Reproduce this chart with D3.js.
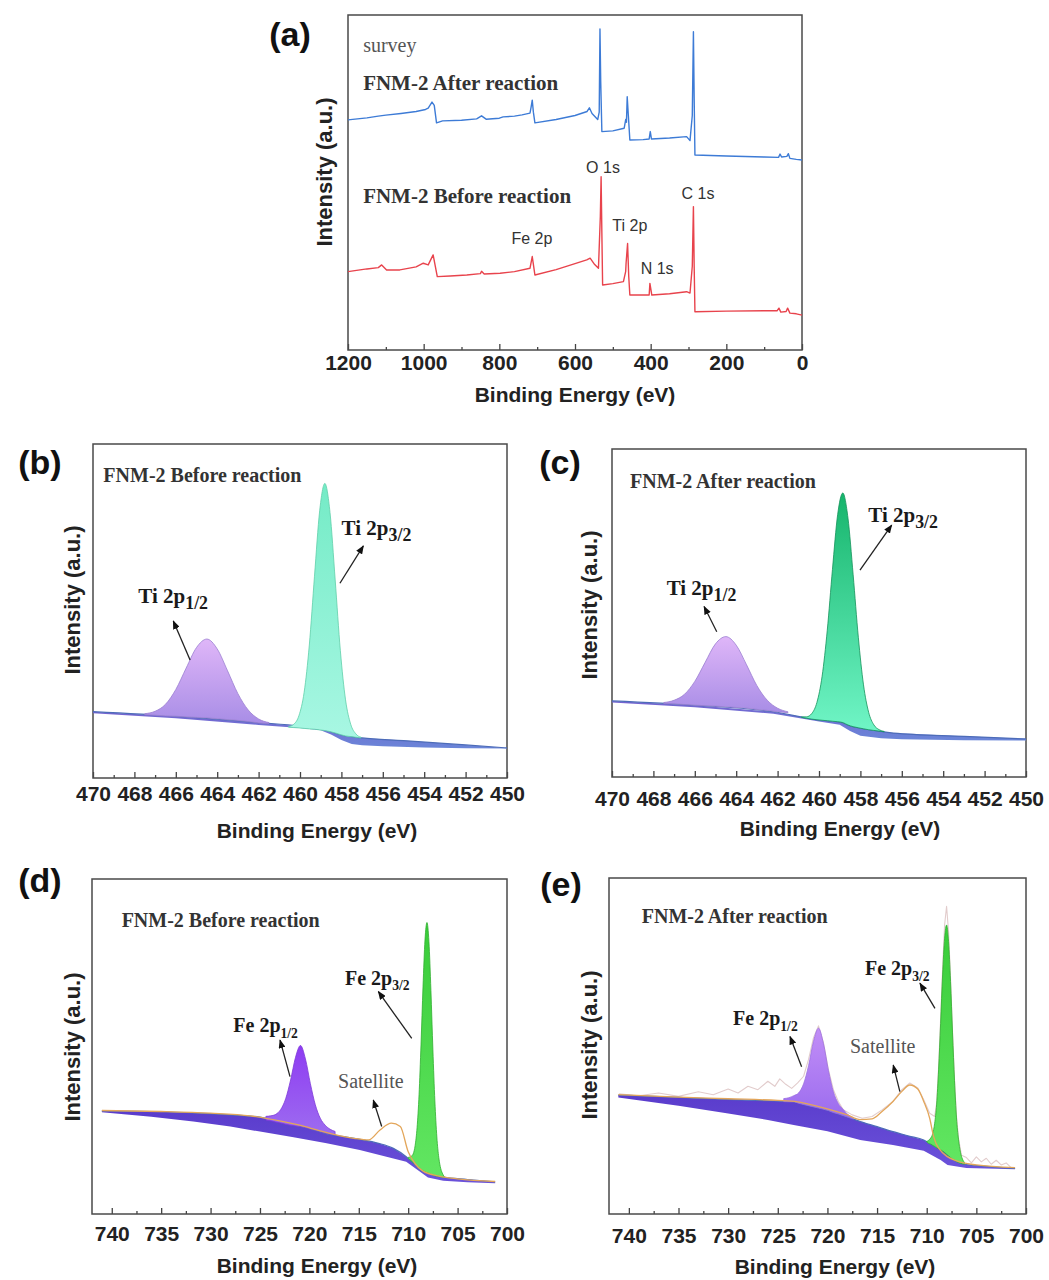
<!DOCTYPE html>
<html>
<head>
<meta charset="utf-8">
<script src="https://cdn.jsdelivr.net/npm/d3@7"></script>
<style>
body { margin: 0; background: #fff; }
</style>
</head>
<body>
<svg id="fig" width="1049" height="1280" font-family="Liberation Sans, Arial, sans-serif"></svg>
<script>
// ---------- data (binding energy eV, intensity in % of panel height) ----------

// (a) survey
const surveyAfter = [[1200,68.7],[1150,69.3],[1120,69.8],[1100,70.1],[1060,70.6],[1020,71.2],[995,71.8],[988,72.2],[978,74.0],[972,73.0],[966,67.8],[950,68.4],[900,68.6],[860,69.0],[847,69.9],[835,68.9],[800,69.2],[790,69.6],[760,69.8],[740,70.2],[719,70.7],[716,72.5],[713,74.6],[710,71.0],[706,67.8],[650,68.8],[600,70.0],[568,71.2],[562,72.3],[555,70.6],[540,68.8],[536,71.0],[534,95.8],[532,80.0],[529,65.2],[500,65.4],[470,66.2],[466,68.8],[464,68.0],[462,75.6],[459,70.0],[455,62.7],[420,62.8],[404,63.0],[401,65.2],[398,63.0],[350,63.3],[305,63.7],[296,62.5],[290,70.0],[287,95.0],[285,75.0],[283,58.2],[200,57.9],[100,57.6],[62,57.5],[58,58.5],[54,57.6],[40,57.8],[36,58.6],[32,57.2],[15,56.9],[0,56.7]];
const surveyBefore = [[1200,23.4],[1150,24.2],[1120,24.6],[1111,25.4],[1098,23.9],[1063,23.9],[1020,24.8],[1001,25.9],[988,25.4],[975,28.4],[964,21.9],[930,22.1],[886,22.4],[850,22.8],[847,23.5],[840,22.7],[798,22.9],[760,23.4],[719,24.4],[713,27.9],[706,22.4],[650,24.0],[600,25.8],[569,26.9],[560,27.4],[548,25.5],[538,24.4],[533,40.0],[531,51.7],[529,35.0],[527,19.4],[500,19.8],[472,20.4],[466,23.5],[465,25.9],[461,31.8],[458,22.0],[455,16.4],[404,16.4],[402,19.9],[397,16.4],[350,16.8],[305,17.4],[296,17.0],[290,25.0],[287,42.8],[285,25.0],[283,11.4],[200,11.6],[100,11.7],[66,11.7],[61,12.5],[56,11.3],[42,11.5],[38,12.5],[32,11.0],[15,10.8],[0,10.4]];
const surveyPeaks = [["O 1s",526,52.8],["C 1s",275,45.1],["Ti 2p",455,35.5],["Fe 2p",714,31.6],["N 1s",383,22.7]];

// (b) Ti 2p before reaction: [E, base, top]
const tiBeforeBgTop = [[470,19.85],[466,18.5],[462,16.6],[460,15.5],[459.5,15.0],[459,14.6],[458.5,13.9],[458,12.9],[457.5,12.4],[457,12.0],[455,11.2],[452,9.9],[450,9.0]];
const tiBeforeBgBot = [[470,19.4],[466,17.9],[462,15.9],[460,15.0],[459,14.3],[458.5,13.0],[458,11.4],[457.5,10.2],[457,9.8],[456,9.5],[454,9.1],[452,8.9],[450,8.8]];
const tiBefore12 = [[467.5,18.95,19.25],[467,18.8,19.98],[466.5,18.6,22.05],[466,18.5,26.5],[465.5,18.3,32.9],[465,18.15,39.05],[464.5,18.0,41.6],[464,17.75,38.65],[463.5,17.5,32.1],[463,17.25,25.25],[462.5,16.9,20.35],[462,16.5,17.68],[461.5,16.3,16.6]];
const tiBefore32 = [[460.55,15.2,15.4],[460.3,15.1,16.1],[460.05,15.0,18.7],[459.8,14.85,25.65],[459.55,14.7,39.8],[459.3,14.6,60.4],[459.05,14.4,80.0],[458.8,14.2,88.2],[458.55,13.9,79.5],[458.3,13.5,59.3],[458.05,13.0,38.1],[457.8,12.6,23.4],[457.55,12.4,16.1],[457.3,12.2,13.2],[457.05,12.0,12.2]];

// (c) Ti 2p after reaction
const tiAfterBgTop = [[470,23.2],[466,21.9],[462.2,19.9],[460,17.4],[459,16.8],[458.5,15.6],[458,14.9],[457,13.9],[456.4,13.4],[453,12.4],[450,11.6]];
const tiAfterBgBot = [[470,22.7],[466,21.3],[462.2,19.3],[460,16.9],[459,15.9],[458.5,14.0],[458,12.6],[457,11.8],[456,11.5],[453,11.2],[450,11.1]];
const tiAfter12 = [[467.5,22.4,22.7],[467,22.3,23.4],[466.5,22.1,25.2],[466,21.9,29.15],[465.5,21.75,34.95],[465,21.6,40.6],[464.5,21.4,42.8],[464,21.2,40.2],[463.5,21.0,34.2],[463,20.6,27.85],[462.5,20.3,23.4],[462,19.9,20.97],[461.5,19.6,19.88]];
const tiAfter32 = [[460.85,18.2,18.3],[460.6,17.9,18.34],[460.35,17.65,19.35],[460.1,17.45,22.75],[459.85,17.3,30.7],[459.6,17.15,44.75],[459.35,17.0,63.3],[459.1,16.85,79.95],[458.85,16.6,86.6],[458.6,15.85,78.95],[458.35,15.35,61.65],[458.1,15.0,42.6],[457.85,14.7,28.1],[457.6,14.4,19.7],[457.35,14.2,15.9],[457.1,14.0,14.44],[456.85,13.8,13.89]];

// (d) Fe 2p before reaction
const feBeforeBgTop = [[741,30.8],[736,30.6],[731.75,30.2],[728,29.6],[725,28.9],[723,27.7],[721.6,26.6],[720,25.5],[718.25,23.9],[716.5,23.1],[714.9,22.3],[713,21.1],[711.5,19.6],[710.2,17.1],[709.5,15.2],[708.8,13.1],[708,12.2],[707.2,11.4],[706.45,11.0],[704,10.3],[701.2,9.6]];
const feBeforeBgBot = [[741,30.4],[736,29.0],[731.75,27.6],[728,26.1],[725,24.6],[721.6,22.9],[718.25,21.1],[714.9,19.1],[711.5,16.6],[710.2,15.6],[708.8,12.6],[708,10.9],[706.45,9.9],[704,9.5],[701.2,9.2]];
const feBefore12 = [[724.4,28.05,29.15],[723.9,27.8,29.3],[723.4,27.45,29.75],[722.9,27.15,31.2],[722.4,26.8,34.4],[721.9,26.5,40.0],[721.4,26.3,46.8],[720.9,26.1,50.3],[720.4,25.8,46.3],[719.9,25.4,38.9],[719.4,25.0,32.6],[718.9,24.6,28.6],[718.4,24.2,26.5],[717.9,23.8,25.3],[717.4,23.55,24.65]];
const feBefore32 = [[710.0,16.6,16.9],[709.7,15.9,17.2],[709.5,15.4,17.9],[709.3,14.9,20.4],[709.1,14.3,25.8],[708.9,13.8,35.6],[708.7,13.3,50.7],[708.5,12.9,67.8],[708.3,12.6,81.8],[708.1,12.3,87.0],[707.9,12.1,81.3],[707.7,11.85,66.75],[707.5,11.6,49.0],[707.3,11.45,33.75],[707.1,11.3,23.0],[706.9,11.2,16.8],[706.7,11.1,13.5],[706.5,11.0,11.9],[706.3,10.9,10.9]];
const feBeforeEnv = [[741,30.9],[735,30.6],[730,30.1],[726,29.3],[723,27.8],[721,26.5],[719,24.9],[717,23.4],[715.5,22.6],[714,22.1],[712.85,25.1],[711.7,27.1],[710.8,26.1],[710.0,18.6],[709.3,15.0],[708.5,12.8],[707,11.4],[705,10.5],[701.2,9.7]];

// (e) Fe 2p after reaction
const feAfterBgTop = [[741.06,35.4],[735,34.7],[730.15,34.1],[726,33.7],[723.4,33.4],[722,32.3],[720.1,31.0],[718,28.9],[716.7,27.5],[715,26.0],[713.4,24.5],[711.8,23.2],[710.3,22.0],[709.5,20.6],[709,19.7],[708.3,18.5],[707.5,16.5],[707,15.6],[706.2,14.8],[704,14.2],[701.1,13.6]];
const feAfterBgBot = [[741.06,34.7],[735,32.2],[730.15,30.0],[726,28.0],[723.4,26.5],[720,24.6],[716.7,22.0],[713.4,20.5],[710.3,18.8],[708.6,16.1],[707.9,14.6],[706,13.7],[701.1,13.3]];
const feAfter12 = [[724.4,33.45,34.35],[723.9,33.4,34.6],[723.4,33.4,35.2],[722.9,32.95,36.05],[722.4,32.6,38.75],[721.9,32.25,44.15],[721.4,31.9,51.4],[720.9,31.55,55.3],[720.4,31.2,50.7],[719.9,30.8,42.7],[719.4,30.2,36.35],[718.9,29.8,32.9],[718.4,29.3,31.1],[717.9,28.8,29.5],[717.4,28.3,28.6]];
const feAfter32 = [[710.0,21.5,21.6],[709.8,21.0,21.95],[709.6,20.8,22.6],[709.4,20.45,23.9],[709.2,20.1,27.0],[709.0,19.7,32.7],[708.8,19.4,43.1],[708.6,19.1,56.7],[708.4,18.75,71.15],[708.2,18.3,82.1],[708.0,17.8,86.0],[707.8,17.3,81.1],[707.6,16.8,69.2],[707.4,16.3,53.9],[707.2,16.0,39.7],[707.0,15.6,28.6],[706.8,15.35,22.25],[706.6,15.1,18.36],[706.4,14.95,16.35],[706.2,14.8,15.35]];
const feAfterEnv = [[741.06,35.5],[735,34.8],[730,34.3],[725,33.8],[723,33.4],[722,32.8],[720,31.3],[718,29.5],[716.7,28.1],[715.5,28.3],[714.5,30.5],[713.4,33.5],[712.5,36.5],[711.7,38.4],[710.9,37.2],[710.3,33.5],[709.7,28.5],[709.3,23.0],[708.8,19.6],[707,15.8],[705,14.6],[701.1,13.8]];
const feAfterRaw = [[741,35.8],[739,35.2],[737,36.0],[735,35.0],[733,36.4],[731.5,35.5],[730,37.2],[729,36.0],[728,38.0],[727,37.0],[726,39.5],[725.3,38.0],[724.8,40.2],[724.2,38.6],[723.6,37.4],[723,39.0],[722.4,41],[721.9,46],[721.4,52.5],[720.9,56],[720.4,51],[719.9,43],[719.4,37],[718.9,33.5],[718.4,31],[717.5,29.5],[716.5,28.5],[715.5,29],[714.5,31],[713.4,33.5],[712.5,37],[711.7,39],[710.9,37.5],[710.3,34],[709.7,30],[709.2,29],[709.0,33],[708.8,44],[708.6,58],[708.4,73],[708.2,86],[708.0,91.6],[707.8,84],[707.6,70],[707.4,54],[707.2,40],[707.0,29],[706.8,22.5],[706.5,17.5],[706,16.8],[705.5,15.2],[705,17.0],[704.5,15.5],[704,16.6],[703.5,14.8],[703,16.0],[702.5,14.6],[702,15.2],[701.5,13.8],[701.1,13.6]];

// tick values
const surveyTicks = [1200,1000,800,600,400,200,0];
const surveyMinor = [1100,900,700,500,300,100];
const tiTicks = [470,468,466,464,462,460,458,456,454,452,450];
const tiMinor = [469,467,465,463,461,459,457,455,453,451];
const feTicks = [740,735,730,725,720,715,710,705,700];
const feMinor = [737.5,732.5,727.5,722.5,717.5,712.5,707.5,702.5];

// ---------- drawing ----------
const SANS = "Liberation Sans, Arial, sans-serif";
const SERIF = "Liberation Serif, Times New Roman, serif";
const svg = d3.select("#fig");
const defs = svg.append("defs");

defs.append("marker").attr("id","ah")
  .attr("viewBox","0 0 10 8").attr("refX",9).attr("refY",4)
  .attr("markerWidth",9).attr("markerHeight",7).attr("markerUnits","userSpaceOnUse")
  .attr("orient","auto")
  .append("path").attr("d","M0,0L10,4L0,8Z").attr("fill","#111");

function grad(id, top, bot) {
  const g = defs.append("linearGradient").attr("id", id)
    .attr("x1",0).attr("y1",0).attr("x2",0).attr("y2",1);
  g.append("stop").attr("offset","0%").attr("stop-color", top);
  g.append("stop").attr("offset","100%").attr("stop-color", bot);
}
grad("gTi12", "#dfb6f8", "#a88de6");
grad("gTi32b", "#74ebc6", "#a8f7e3");
grad("gTi32c", "#16b56c", "#70f5c6");
grad("gFe12d", "#8e3cf2", "#9d6cf0");
grad("gFe12e", "#c28ef7", "#9b6cee");
grad("gFe32", "#38cc38", "#62e662");
grad("gBandTi", "#7462d0", "#6a86d8");
grad("gBandFe", "#5a3ccc", "#6b52da");

function panel(o) {
  const g = svg.append("g");
  const x = d3.scaleLinear().domain(o.xDomain).range([o.left, o.right]);
  const y = d3.scaleLinear().domain([0,100]).range([o.bottom, o.top]);

  g.append("g").attr("transform", `translate(0,${o.bottom})`)
    .call(d3.axisBottom(x).tickValues(o.minor).tickSize(-3).tickFormat(""))
    .call(a => a.select(".domain").remove())
    .selectAll("line").attr("stroke","#444").attr("stroke-width",1.3);
  const ax = g.append("g").attr("transform", `translate(0,${o.bottom})`)
    .call(d3.axisBottom(x).tickValues(o.major).tickSize(-6).tickPadding(o.pad).tickFormat(d3.format("d")));
  ax.select(".domain").remove();
  ax.selectAll("line").attr("stroke","#444").attr("stroke-width",1.3);
  ax.selectAll("text").attr("font-family",SANS)
    .attr("font-size",21).attr("font-weight","bold").attr("fill","#222");

  g.append("rect").attr("x",o.left).attr("y",o.top)
    .attr("width",o.right-o.left).attr("height",o.bottom-o.top)
    .attr("fill","none").attr("stroke","#4a4a4a").attr("stroke-width",1.5);

  g.append("text").attr("x",o.titleX).attr("y",o.titleY)
    .attr("text-anchor","middle").attr("font-size",21).attr("font-weight","bold").attr("fill","#222")
    .text("Binding Energy (eV)");
  g.append("text").attr("transform",`translate(${o.ylabX},${o.ylabY}) rotate(-90)`)
    .attr("text-anchor","middle").attr("font-size",22).attr("font-weight","bold").attr("fill","#222")
    .text("Intensity (a.u.)");
  g.append("text").attr("x",o.letterX).attr("y",o.letterY)
    .attr("text-anchor","middle").attr("font-size",34).attr("font-weight","bold").attr("fill","#111")
    .text(o.letter);

  const plot = g.append("g");
  return {g: plot, x, y};
}

function band(p, top, bot, fill) {
  const pts = top.concat(bot.slice().reverse());
  p.g.append("path")
    .attr("d", d3.line().x(d => p.x(d[0])).y(d => p.y(d[1])).curve(d3.curveLinearClosed)(pts))
    .attr("fill", fill).attr("stroke","none");
  p.g.append("path")
    .attr("d", d3.line().x(d => p.x(d[0])).y(d => p.y(d[1])).curve(d3.curveMonotoneX)(top))
    .attr("fill","none").attr("stroke","#4d6cb8").attr("stroke-width",1.2);
}

function peak(p, data, fill, stroke) {
  p.g.append("path")
    .attr("d", d3.area().x(d => p.x(d[0])).y0(d => p.y(d[1])).y1(d => p.y(d[2])).curve(d3.curveMonotoneX)(data))
    .attr("fill", fill).attr("stroke", stroke).attr("stroke-width", 0.8);
}

function curve(p, data, color, w, curveType) {
  p.g.append("path")
    .attr("d", d3.line().x(d => p.x(d[0])).y(d => p.y(d[1])).curve(curveType || d3.curveMonotoneX)(data))
    .attr("fill","none").attr("stroke",color).attr("stroke-width",w).attr("stroke-linejoin","round");
}

function label(p, E, v, main, sub, size, opts) {
  opts = opts || {};
  const t = p.g.append("text").attr("x", p.x(E)).attr("y", p.y(v))
    .attr("font-family", opts.sans ? SANS : SERIF)
    .attr("font-size", size).attr("font-weight", opts.weight || "bold")
    .attr("fill", opts.fill || "#1a1a1a").attr("text-anchor", opts.anchor || "start");
  t.append("tspan").text(main);
  if (sub) t.append("tspan").attr("font-size", size * (opts.subScale || 0.72)).attr("dy", size * 0.28).text(sub);
}

function arrow(p, from, to) {
  p.g.append("line")
    .attr("x1", p.x(from[0])).attr("y1", p.y(from[1]))
    .attr("x2", p.x(to[0])).attr("y2", p.y(to[1]))
    .attr("stroke","#222").attr("stroke-width",1.3).attr("marker-end","url(#ah)");
}

// (a) survey
const pa = panel({left:348,right:802,top:15,bottom:350,xDomain:[1200,0],
  major:surveyTicks,minor:surveyMinor,pad:5,titleX:575,titleY:402,ylabX:332,ylabY:172,
  letter:"(a)",letterX:290,letterY:46});
curve(pa, surveyAfter, "#3d7bd6", 1.4, d3.curveLinear);
curve(pa, surveyBefore, "#e8434c", 1.4, d3.curveLinear);
label(pa, 1160, 89, "survey", null, 20, {weight:"normal", fill:"#555"});
label(pa, 1160, 77.6, "FNM-2 After reaction", null, 21, {fill:"#333"});
label(pa, 1160, 43.9, "FNM-2 Before reaction", null, 21, {fill:"#333"});
surveyPeaks.forEach(d => label(pa, d[1], d[2], d[0], null, 16, {sans:true, weight:"normal", fill:"#333", anchor:"middle"}));

// (b) Ti 2p before
const pb = panel({left:93,right:507,top:444,bottom:778,xDomain:[470,450],
  major:tiTicks,minor:tiMinor,pad:8,titleX:317,titleY:838,ylabX:80,ylabY:600,
  letter:"(b)",letterX:40,letterY:474});
band(pb, tiBeforeBgTop, tiBeforeBgBot, "url(#gBandTi)");
peak(pb, tiBefore12, "url(#gTi12)", "#9a7fd0");
peak(pb, tiBefore32, "url(#gTi32b)", "#5fcfaa");
label(pb, 469.5, 88.6, "FNM-2 Before reaction", null, 20, {fill:"#333"});
label(pb, 457.99, 72.8, "Ti 2p", "3/2", 21, {subScale:0.85});
label(pb, 467.81, 52.4, "Ti 2p", "1/2", 21, {subScale:0.85});
arrow(pb, [458.07,58.3], [456.94,69.5]);
arrow(pb, [465.31,35.3], [466.12,47.0]);

// (c) Ti 2p after
const pc = panel({left:612,right:1026,top:449,bottom:777,xDomain:[470,450],
  major:tiTicks,minor:tiMinor,pad:14,titleX:840,titleY:836,ylabX:597,ylabY:605,
  letter:"(c)",letterX:560,letterY:474});
band(pc, tiAfterBgTop, tiAfterBgBot, "url(#gBandTi)");
peak(pc, tiAfter12, "url(#gTi12)", "#9a7fd0");
peak(pc, tiAfter32, "url(#gTi32c)", "#14935a");
label(pc, 469.13, 88.1, "FNM-2 After reaction", null, 20, {fill:"#333"});
label(pc, 457.62, 77.7, "Ti 2p", "3/2", 21, {subScale:0.85});
label(pc, 467.36, 55.5, "Ti 2p", "1/2", 21, {subScale:0.85});
arrow(pc, [458.02,63.1], [456.49,76.8]);
arrow(pc, [464.94,44.3], [465.55,52.0]);

// (d) Fe 2p before
const pd = panel({left:92,right:507,top:879,bottom:1214,xDomain:[742,700],
  major:feTicks,minor:feMinor,pad:12,titleX:317,titleY:1273,ylabX:80,ylabY:1047,
  letter:"(d)",letterX:40,letterY:892});
band(pd, feBeforeBgTop, feBeforeBgBot, "url(#gBandFe)");
peak(pd, feBefore12, "url(#gFe12d)", "#7d3ad8");
peak(pd, feBefore32, "url(#gFe32)", "#2fae2f");
curve(pd, feBeforeEnv, "#e3a65a", 1.3);
label(pd, 739.0, 85.7, "FNM-2 Before reaction", null, 20, {fill:"#333"});
label(pd, 716.4, 68.4, "Fe 2p", "3/2", 20, {subScale:0.68});
label(pd, 727.7, 54.3, "Fe 2p", "1/2", 20, {subScale:0.68});
label(pd, 717.1, 37.6, "Satellite", null, 20, {weight:"normal", fill:"#555"});
arrow(pd, [709.64,52.4], [713.02,66.4]);
arrow(pd, [721.96,41.0], [722.97,51.9]);
arrow(pd, [712.68,26.1], [713.53,34.0]);

// (e) Fe 2p after
const pe = panel({left:609,right:1026,top:878,bottom:1214,xDomain:[742,700],
  major:feTicks,minor:feMinor,pad:14,titleX:835,titleY:1274,ylabX:597,ylabY:1045,
  letter:"(e)",letterX:561,letterY:896});
curve(pe, feAfterRaw, "#e2cccc", 1.1, d3.curveLinear);
band(pe, feAfterBgTop, feAfterBgBot, "url(#gBandFe)");
peak(pe, feAfter12, "url(#gFe12e)", "#9b6ee0");
peak(pe, feAfter32, "url(#gFe32)", "#2fae2f");
curve(pe, feAfterEnv, "#e3a65a", 1.3);
label(pe, 738.7, 86.5, "FNM-2 After reaction", null, 20, {fill:"#333"});
label(pe, 716.22, 71.1, "Fe 2p", "3/2", 20, {subScale:0.68});
label(pe, 729.5, 56.25, "Fe 2p", "1/2", 20, {subScale:0.68});
label(pe, 717.73, 47.9, "Satellite", null, 20, {weight:"normal", fill:"#555"});
arrow(pe, [709.17,61.2], [710.68,68.7]);
arrow(pe, [722.6,43.8], [723.77,52.8]);
arrow(pe, [712.7,36.4], [713.37,44.3]);
</script>
</body>
</html>
